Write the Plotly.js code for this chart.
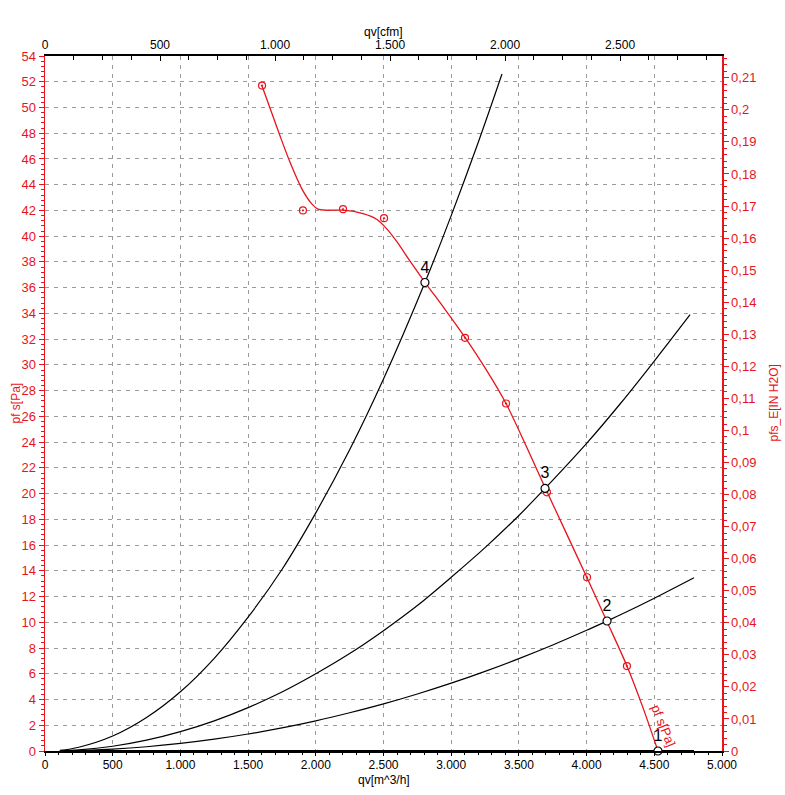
<!DOCTYPE html>
<html>
<head>
<meta charset="utf-8">
<script src="https://cdn.plot.ly/plotly-3.0.1.min.js"></script>
<style>
  html, body { margin: 0; padding: 0; background: #fff; }
  #chart { width: 785px; height: 795px; }
</style>
</head>
<body>
<div id="chart"></div>
<script>
// Fan curve: static pressure ps [Pa] against airflow qv [m^3/h]
const fanLineQ = [1603, 1736, 1809, 1898, 1972, 2016, 2083, 2201, 2349, 2452, 2526, 2600, 2700, 2806, 2954, 3102, 3257, 3405, 3552, 3700, 3855, 4003, 4151, 4298, 4417, 4527];
const fanLineP = [51.67, 47.78, 45.76, 43.66, 42.49, 42.10, 42.02, 42.02, 41.75, 41.30, 40.55, 39.55, 38.00, 36.42, 34.32, 32.14, 29.65, 27.00, 23.74, 20.31, 16.81, 13.46, 10.04, 6.61, 3.35, 0];

// Measured points on the fan curve
const measQ = [1603, 1905, 2201, 2504, 3102, 3405, 3707, 4003, 4298];
const measP = [51.7, 42.0, 42.1, 41.4, 32.1, 27.0, 20.1, 13.5, 6.6];

// System resistance curves
const sys4Q = [110, 250, 500, 750, 1000, 1250, 1500, 1750, 2000, 2250, 2500, 2806, 3000, 3200, 3375];
const sys4P = [0.05, 0.29, 1.16, 2.6, 4.6, 7.2, 10.4, 14.1, 18.5, 23.4, 28.9, 36.4, 41.6, 47.3, 52.6];
const sys3Q = [110, 250, 500, 750, 1000, 1250, 1500, 1750, 2000, 2250, 2500, 2750, 3000, 3250, 3500, 3693, 4000, 4250, 4500, 4764];
const sys3P = [0.02, 0.09, 0.37, 0.84, 1.5, 2.34, 3.37, 4.58, 6.0, 7.57, 9.35, 11.3, 13.5, 15.8, 18.3, 20.4, 23.9, 27.0, 30.3, 33.9];
const sys2Q = [110, 250, 500, 750, 1000, 1250, 1500, 1750, 2000, 2250, 2500, 2750, 3000, 3250, 3500, 3750, 4000, 4151, 4250, 4500, 4793];
const sys2P = [0.01, 0.04, 0.15, 0.33, 0.59, 0.92, 1.32, 1.79, 2.34, 2.97, 3.66, 4.43, 5.27, 6.19, 7.18, 8.24, 9.38, 10.1, 10.58, 11.87, 13.46];
const sys1Q = [110, 4527, 4793];
const sys1P = [0, 0, 0];

// Operating points
const opLabels = ['1', '2', '3', '4'];
const opQ = [4527, 4151, 3693, 2806];
const opP = [0, 10.1, 20.4, 36.4];

// Axis ranges and unit conversions
const qMax = 5000;          // m^3/h
const pMax = 54;            // Pa
const cfmPerM3h = 1 / 1.699;
const paPerInH2O = 249.089;

const red = '#e8141b';
const black = '#000';
const gridCol = '#9a9a9a';
const gridDash = '4px,5px';
const font = 'Liberation Sans, Arial, sans-serif';

const sysLine = { color: black, width: 1.2, shape: 'spline', smoothing: 1 };

const traces = [
  { x: sys4Q, y: sys4P, mode: 'lines', line: sysLine, hoverinfo: 'skip' },
  { x: sys3Q, y: sys3P, mode: 'lines', line: sysLine, hoverinfo: 'skip' },
  { x: sys2Q, y: sys2P, mode: 'lines', line: sysLine, hoverinfo: 'skip' },
  { x: sys1Q, y: sys1P, mode: 'lines', line: { color: black, width: 2 }, hoverinfo: 'skip', cliponaxis: false },
  { x: fanLineQ, y: fanLineP, mode: 'lines', line: { color: red, width: 1.3, shape: 'spline', smoothing: 0.8 } },
  { x: measQ, y: measP, mode: 'markers',
    marker: { symbol: 'circle-open-dot', color: red, size: 7, line: { width: 1.2, color: red } } },
  { x: opQ, y: opP, mode: 'markers+text', text: opLabels, textposition: 'top center',
    textfont: { family: font, size: 16, color: black },
    marker: { symbol: 'circle', color: '#fff', size: 8, line: { width: 1.2, color: black } },
    cliponaxis: false },
  // carries the cfm scale on the top axis
  { x: [0, qMax * cfmPerM3h], y: [0, 0], xaxis: 'x2', mode: 'lines', line: { width: 0 }, hoverinfo: 'skip' },
  // carries the inH2O scale on the right axis
  { x: [0, 0], y: [0, pMax / paPerInH2O], yaxis: 'y2', mode: 'lines', line: { width: 0 }, hoverinfo: 'skip' }
];

const titleFont = (c) => ({ family: font, size: 12, color: c });

const layout = {
  width: 785,
  height: 795,
  margin: { l: 45, r: 63, t: 56, b: 44 },
  showlegend: false,
  separators: ',.',
  paper_bgcolor: '#fff',
  plot_bgcolor: '#fff',
  font: { family: font, size: 12, color: black },
  xaxis: {
    range: [0, qMax], dtick: 500, tickformat: ',d',
    showgrid: true, gridcolor: gridCol, griddash: gridDash, gridwidth: 1,
    zeroline: false, showline: true, linecolor: black, linewidth: 2,
    ticks: 'outside', ticklen: 3, tickcolor: black, ticklabelstandoff: -1,
    minor: { dtick: 100, ticks: 'outside', ticklen: 2, tickcolor: black, showgrid: false },
    tickfont: { family: font, size: 12, color: black }
  },
  xaxis2: {
    overlaying: 'x', side: 'top', anchor: 'y',
    range: [0, qMax * cfmPerM3h], dtick: 500, tickformat: ',d',
    showgrid: false, zeroline: false, showline: true, linecolor: black, linewidth: 2,
    ticks: 'inside', ticklen: 5, tickcolor: black,
    minor: { dtick: 125, ticks: 'inside', ticklen: 4, tickcolor: black, showgrid: false },
    tickfont: { family: font, size: 12, color: black }
  },
  yaxis: {
    range: [0, pMax], dtick: 2, tickformat: 'd',
    showgrid: true, gridcolor: gridCol, griddash: gridDash, gridwidth: 1,
    zeroline: false, showline: true, linecolor: red, linewidth: 1.5,
    ticks: 'outside', ticklen: 5, tickcolor: red,
    minor: { dtick: 0.4, ticks: 'outside', ticklen: 3, tickcolor: red, showgrid: false },
    tickfont: { family: font, size: 13, color: red }
  },
  yaxis2: {
    overlaying: 'y', side: 'right', anchor: 'x',
    range: [0, pMax / paPerInH2O], dtick: 0.01, tickformat: '.2~f',
    showgrid: false, zeroline: false, showline: true, linecolor: red, linewidth: 1.5,
    ticks: 'outside', ticklen: 5, tickcolor: red,
    minor: { dtick: 0.002, ticks: 'outside', ticklen: 3, tickcolor: red, showgrid: false },
    tickfont: { family: font, size: 13, color: red }
  },
  annotations: [
    // axis titles
    { xref: 'paper', yref: 'paper', x: 0.5, y: 0, yshift: -29, xanchor: 'center', yanchor: 'middle',
      text: 'qv[m^3/h]', showarrow: false, font: titleFont(black) },
    { xref: 'paper', yref: 'paper', x: 0.5, y: 1, yshift: 24, xanchor: 'center', yanchor: 'middle',
      text: 'qv[cfm]', showarrow: false, font: titleFont(black) },
    { xref: 'paper', yref: 'paper', x: 0, y: 0.5, xshift: -30, xanchor: 'center', yanchor: 'middle',
      text: 'pf s[Pa]', textangle: -90, showarrow: false, font: titleFont(red) },
    { xref: 'paper', yref: 'paper', x: 1, y: 0.5, xshift: 51, xanchor: 'center', yanchor: 'middle',
      text: 'pfs_E[IN H2O]', textangle: -90, showarrow: false, font: titleFont(red) },
    // curve label on the fan curve
    { x: 4564, y: 1.95, xref: 'x', yref: 'y', text: 'pf s[Pa]', showarrow: false,
      textangle: 68, font: { family: font, size: 13, color: red } }
  ]
};

Plotly.newPlot('chart', traces, layout, { displayModeBar: false, staticPlot: true });
</script>
</body>
</html>
